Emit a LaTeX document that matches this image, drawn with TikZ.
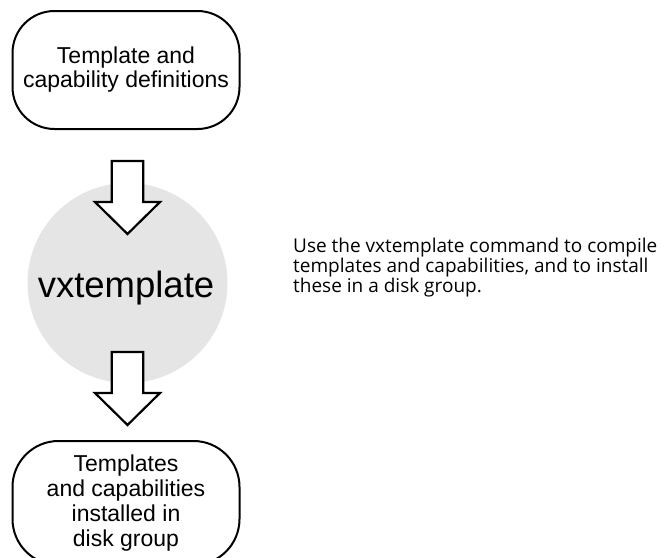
\documentclass[tikz,border=0pt]{standalone}
\usepackage{fontspec}
\setmainfont{Liberation Sans}
\newfontfamily\notefont{Open Sans}
\begin{document}
\begin{tikzpicture}[x=1pt,y=-1pt,
  roundbox/.style={draw=black, line width=2pt, fill=white, align=center, inner sep=0pt,
    minimum width=227pt, font=\fontsize{23}{24}\selectfont},
  fatarrow/.style={draw=black, line width=2.2pt, fill=white, line join=miter},
  notetext/.style={align=left, inner sep=0pt, anchor=north west, font=\notefont\fontsize{19}{17.5}\selectfont}
]
\useasboundingbox (0,0) rectangle (666,557);
\begin{scope}
\clip (0,0) rectangle (666,557);
% top box
\node[roundbox, rounded corners=42pt, minimum height=118pt] (top) at (126,70)
  {Template and\\capability definitions};
% circle
\node[circle, fill=black!10, minimum size=200pt, inner sep=0pt] (circ) at (127.5,283) {};
\node[anchor=base, inner sep=0pt, font=\fontsize{36.5}{38}\selectfont] (vx) at (126,297) {vxtemplate};
% arrows
\coordinate (a1) at (127.5,161);
\coordinate (a2) at (127.5,352);
\foreach \c in {a1,a2}{
  \draw[fatarrow] (\c) ++(-15.8,0) -- ++(0,41) -- ++(-16.7,0) -- ++(32.5,32) -- ++(32.5,-32)
     -- ++(-16.7,0) -- ++(0,-41) -- cycle;
}
% bottom box
\node[roundbox, rounded corners=46pt, minimum height=124pt, font=\fontsize{23}{25}\selectfont] (bot) at (126,503)
  {Templates\\and capabilities\\installed in\\disk group};
\end{scope}
% note
\node[notetext] (note) at (293,238)
  {Use the vxtemplate command to compile\\templates and capabilities, and to install\\these in a disk group.};
\end{tikzpicture}
\end{document}
